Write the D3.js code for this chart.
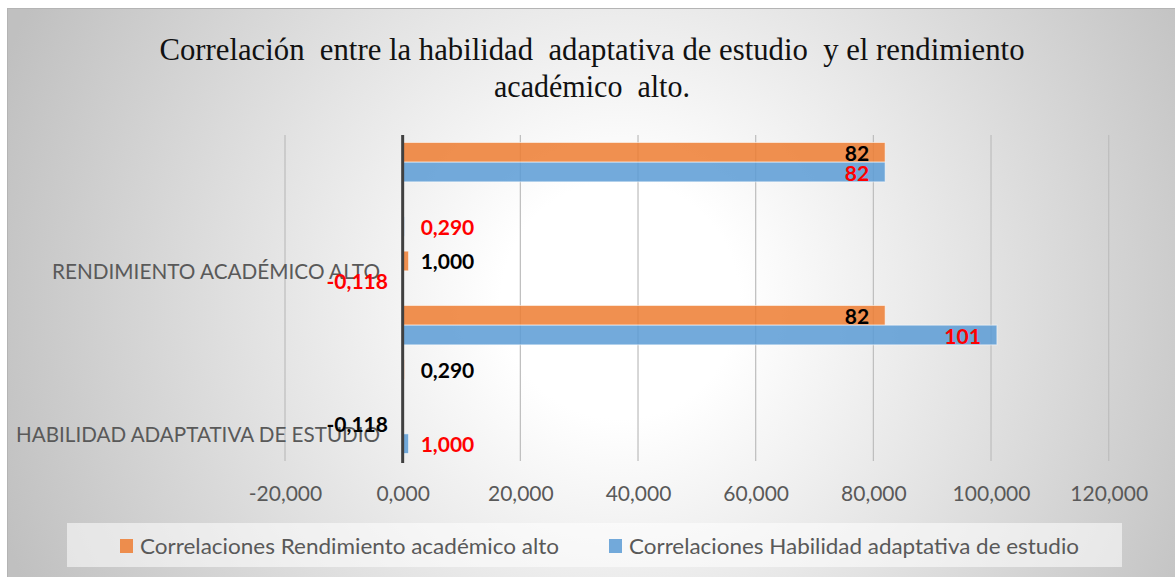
<!DOCTYPE html>
<html><head><meta charset="utf-8">
<script src="https://cdnjs.cloudflare.com/ajax/libs/d3/7.8.5/d3.min.js"></script>
<style>html,body{margin:0;padding:0;background:#fff;overflow:hidden}</style>
</head><body><svg id="chart" width="1175" height="577"></svg>
<script>
// ---------- data ----------
const titleLines = ["Correlación  entre la habilidad  adaptativa de estudio  y el rendimiento", "académico  alto."];
const rowKeys = ["rendN", "rendSig", "rendR", "habN", "habSig", "habR"];
const rowLabels = ["", "", "RENDIMIENTO ACADÉMICO ALTO", "", "", "HABILIDAD ADAPTATIVA DE ESTUDIO"];
const seriesNames = ["Correlaciones Rendimiento académico alto", "Correlaciones Habilidad adaptativa de estudio"];
const rendimientoValues = [82, null, 1.000, 82, 0.290, -0.118];
const habilidadValues = [82, 0.290, -0.118, 101, null, 1.000];
const xTicks = [-20, 0, 20, 40, 60, 80, 100, 120];

// ---------- styles ----------
const seriesColors = ["#ED7D31", "#5B9BD5"];
const labelColors = ["#000000", "#FF0000"];
const sans = "Lato, 'Open Sans', sans-serif";
const serif = "'Liberation Serif', 'Times New Roman', serif";
const grey = "#595959";

const svg = d3.select("#chart");
const W = 1175, H = 577;

const locale = d3.formatLocale({decimal: ",", thousands: ".", grouping: [3], currency: ["", ""], minus: "-"});
const f3 = locale.format(".3f");
const fmtLabel = v => Math.abs(v) >= 10 ? locale.format("d")(v) : f3(v);

// fit text to a given width
function fitWidth(sel, widths) {
  sel.each(function (d, i) {
    this.setAttribute("textLength", widths[i]);
    this.setAttribute("lengthAdjust", "spacingAndGlyphs");
  });
}

// ---------- background ----------
const defs = svg.append("defs");
const rg = defs.append("radialGradient").attr("id", "bg")
  .attr("gradientUnits", "userSpaceOnUse")
  .attr("cx", 620).attr("cy", 300).attr("r", 660);
rg.append("stop").attr("offset", 0.18).attr("stop-color", "#ffffff");
rg.append("stop").attr("offset", 1).attr("stop-color", "#c0c0c0");

svg.append("rect").attr("x", 7.5).attr("y", 8.5).attr("width", W + 10).attr("height", H + 10)
  .attr("fill", "url(#bg)").attr("stroke", "#b4b4b4").attr("stroke-width", 1);

// ---------- title ----------
const title = svg.append("g").attr("font-family", serif).attr("font-size", 31).attr("fill", "#111");
title.selectAll("text").data(titleLines).join("text")
  .attr("x", 592).attr("y", (d, i) => 60 + i * 37)
  .attr("text-anchor", "middle").style("white-space", "pre")
  .text(d => d)
  .call(fitWidth, [865, 196]);

// ---------- scales ----------
const x = d3.scaleLinear().domain([-20, 120]).range([285, 1108.7]);
const y0 = d3.scaleBand().domain(rowKeys).range([135, 461]).padding(0);
const y1 = d3.scaleBand().domain([0, 1]).range([0, y0.bandwidth()]).paddingInner(0).paddingOuter(0.38);

// gridlines
svg.append("g").selectAll("line").data(xTicks.filter(t => t !== 0)).join("line")
  .attr("x1", d => x(d)).attr("x2", d => x(d)).attr("y1", 135).attr("y2", 461)
  .attr("stroke", "#bdbdbd").attr("stroke-width", 1.2);

// axis tick labels
const axis = svg.append("g").call(d3.axisBottom(x).tickValues(xTicks).tickFormat(f3).tickSize(0));
axis.select(".domain").remove();
axis.selectAll("text").attr("y", 501).attr("dy", 0)
  .attr("font-family", sans).attr("font-size", 21).attr("fill", grey);

// ---------- bars ----------
const series = [rendimientoValues, habilidadValues];
const cells = [];
rowKeys.forEach((k, r) => series.forEach((vals, s) => {
  if (vals[r] !== null) cells.push({row: k, s, v: vals[r]});
}));

svg.append("g").selectAll("rect").data(cells).join("rect")
  .attr("x", d => x(Math.min(0, d.v)))
  .attr("width", d => Math.abs(x(d.v) - x(0)))
  .attr("y", d => y0(d.row) + y1(d.s))
  .attr("height", y1.bandwidth())
  .attr("fill", d => seriesColors[d.s]).attr("fill-opacity", 0.85)
  .attr("stroke", "#ffffff").attr("stroke-opacity", 0.55).attr("stroke-width", 1);

// zero axis line
svg.append("line").attr("x1", x(0)).attr("x2", x(0)).attr("y1", 135).attr("y2", 463)
  .attr("stroke", "#404040").attr("stroke-width", 3);

// category labels
svg.append("g").selectAll("text").data(rowKeys.map((k, i) => ({k, t: rowLabels[i]})).filter(d => d.t)).join("text")
  .attr("x", 380).attr("y", d => y0(d.k) + y0.bandwidth() / 2 + 8)
  .attr("text-anchor", "end")
  .attr("font-family", sans).attr("font-size", 21).attr("fill", grey)
  .text(d => d.t)
  .call(fitWidth, [328, 364]);

// data labels
svg.append("g").selectAll("text").data(cells).join("text")
  .attr("x", d => d.v >= 10 ? x(d.v) - 16 : (d.v < 0 ? x(d.v) - 14 : x(0) + 18))
  .attr("y", d => y0(d.row) + y1(d.s) + y1.bandwidth() / 2 + 8.5)
  .attr("text-anchor", d => (d.v >= 10 || d.v < 0) ? "end" : "start")
  .attr("font-family", sans).attr("font-weight", "bold").attr("font-size", 21)
  .attr("fill", d => labelColors[d.s])
  .text(d => fmtLabel(d.v));

// ---------- legend ----------
svg.append("rect").attr("x", 67).attr("y", 523).attr("width", 1055).attr("height", 44)
  .attr("fill", "#ffffff").attr("fill-opacity", 0.55);
const legX = [120, 609];
const leg = svg.append("g").selectAll("g").data(seriesNames).join("g")
  .attr("transform", (d, i) => `translate(${legX[i]},0)`);
leg.append("rect").attr("x", 0).attr("y", 539).attr("width", 13).attr("height", 14)
  .attr("fill", (d, i) => seriesColors[i]).attr("fill-opacity", 0.85);
leg.append("text").attr("x", 20).attr("y", 554)
  .attr("font-family", sans).attr("font-size", 21).attr("fill", grey)
  .text(d => d)
  .call(fitWidth, [419, 450]);
</script></body></html>
